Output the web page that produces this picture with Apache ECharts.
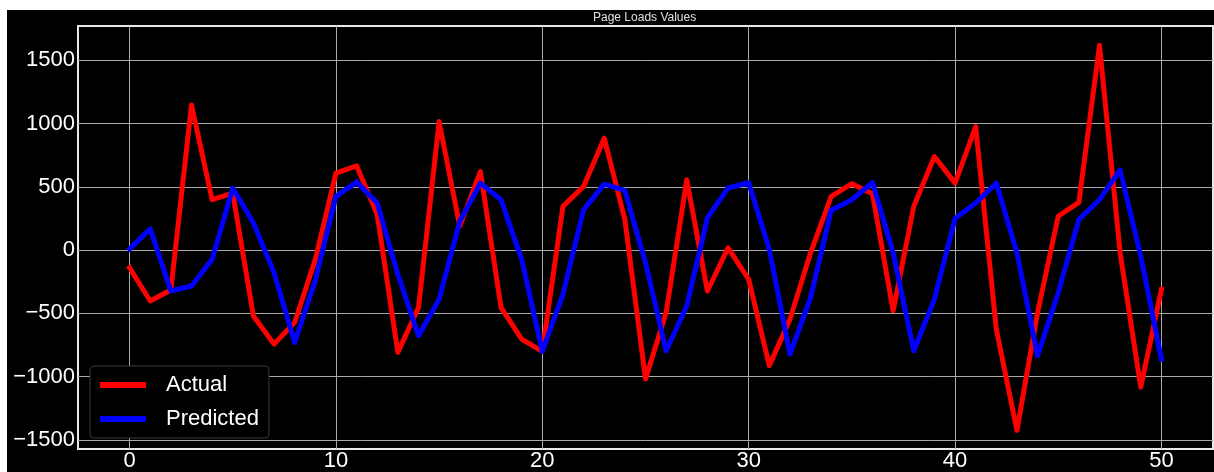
<!DOCTYPE html>
<html>
<head>
<meta charset="utf-8">
<script src="https://cdn.jsdelivr.net/npm/echarts@6/dist/echarts.min.js"></script>
<style>
html,body{margin:0;padding:0;background:#ffffff;width:1214px;height:472px;overflow:hidden;}
#chart{position:absolute;left:7px;top:10px;width:1207px;height:462px;}
</style>
</head>
<body>
<div id="chart"></div>
<script>
const titleText = "Page Loads Values";
const seriesNames = ["Actual", "Predicted"];
const xIndex = Array.from({length: 51}, (_, i) => i);
const actual = [
  -139, -402, -315, 1147, 399, 451, -520, -743, -572, -73,
  609, 667, 281, -808, -454, 1016, 189, 622, -454, -703,
  -800, 346, 504, 885, 241, -1018, -493, 556, -323, 18,
  -231, -913, -546, -21, 425, 525, 446, -480, 346, 740,
  530, 977, -625, -1425, -493, 268, 378, 1620, -21, -1084,
  -310
];
const predicted = [
  10, 168, -323, -283, -73, 491, 215, -178, -730, -240,
  425, 538, 373, -192, -677, -388, 228, 530, 399, -73,
  -800, -349, 320, 522, 472, -100, -795, -441, 255, 491,
  533, 5, -822, -375, 315, 399, 535, -21, -795, -388,
  250, 373, 530, -21, -835, -336, 242, 399, 635, -47,
  -861
];
const xTicks = [0, 10, 20, 30, 40, 50];
const yTicks = [-1500, -1000, -500, 0, 500, 1000, 1500];

const fmt = v => (v < 0 ? "\u2212" + Math.abs(v) : String(v));
const chart = echarts.init(document.getElementById("chart"), null, {renderer: "canvas"});
chart.setOption({
  animation: false,
  backgroundColor: "#000000",
  textStyle: {fontFamily: "Liberation Sans"},
  title: {
    text: titleText, left: 586, top: 2, padding: 0,
    textStyle: {color: "#e0e0e0", fontSize: 12, fontWeight: "normal", fontFamily: "Liberation Sans"}
  },
  legend: {
    data: seriesNames,
    orient: "vertical",
    left: 83, top: 356,
    icon: "rect",
    itemWidth: 46, itemHeight: 6,
    itemGap: 8,
    padding: [6, 10, 6, 10],
    backgroundColor: "#000000",
    borderColor: "#3a3a3a", borderWidth: 1, borderRadius: 4,
    textStyle: {color: "#ffffff", fontSize: 22, lineHeight: 26, padding: [0, 0, 0, 15], fontFamily: "Liberation Sans"}
  },
  grid: {
    left: 71, top: 16, width: 1135, height: 424,
    show: true, borderColor: "#e8e8e8", borderWidth: 2, backgroundColor: "#000000"
  },
  xAxis: {
    type: "value", min: -2.5, max: 52.5,
    axisLine: {show: false},
    axisTick: {show: false, customValues: xTicks},
    axisLabel: {customValues: xTicks, color: "#ffffff", fontSize: 22, margin: 1, formatter: fmt, fontFamily: "Liberation Sans"},
    splitLine: {show: true, lineStyle: {color: "#a8a8a8", width: 1}}
  },
  yAxis: {
    type: "value", min: -1572, max: 1772,
    axisLine: {show: false},
    axisTick: {show: false, customValues: yTicks},
    axisLabel: {customValues: yTicks, color: "#ffffff", fontSize: 22, margin: 3, padding: [3, 0, 0, 0], formatter: fmt, fontFamily: "Liberation Sans"},
    splitLine: {show: true, lineStyle: {color: "#a8a8a8", width: 1}}
  },
  series: [
    {
      name: seriesNames[0], type: "line", showSymbol: false, symbol: "none",
      data: xIndex.map((x, i) => [x, actual[i]]),
      lineStyle: {color: "#ff0000", width: 5, join: "round", cap: "square"},
      itemStyle: {color: "#ff0000"}
    },
    {
      name: seriesNames[1], type: "line", showSymbol: false, symbol: "none",
      data: xIndex.map((x, i) => [x, predicted[i]]),
      lineStyle: {color: "#0000ff", width: 5, join: "round", cap: "square"},
      itemStyle: {color: "#0000ff"}
    }
  ]
});
</script>
</body>
</html>
